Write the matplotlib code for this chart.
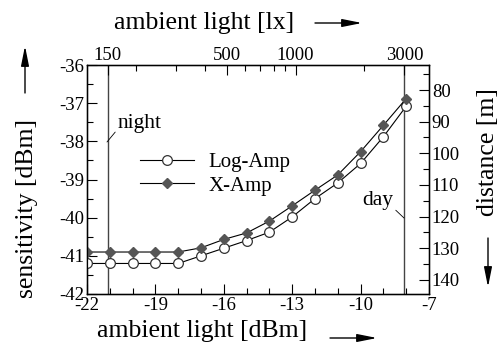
import numpy as np
import matplotlib
matplotlib.use("Agg")
import matplotlib.pyplot as plt
from matplotlib.ticker import MultipleLocator, FixedLocator

plt.rcParams['font.family'] = ['Liberation Serif', 'DejaVu Serif']
plt.rcParams['axes.unicode_minus'] = False

ambient_dbm = [-22, -21, -20, -19, -18, -17, -16, -15, -14, -13, -12, -11, -10, -9, -8]
log_amp = [-41.2, -41.2, -41.2, -41.2, -41.2, -41.0, -40.8, -40.6, -40.38, -39.98, -39.5, -39.09, -38.58, -37.88, -37.08]
x_amp = [-40.9, -40.9, -40.9, -40.9, -40.9, -40.79, -40.57, -40.4, -40.09, -39.69, -39.28, -38.88, -38.27, -37.58, -36.88]

dbm_ticks = [-22, -19, -16, -13, -10, -7]
lx_major = [150, 500, 1000, 3000]
lx_minor = [200, 300, 400, 600, 700, 800, 900, 2000]
night_lx = 150
day_lx = 3000
dist_major = [80, 90, 100, 110, 120, 130, 140]

LX_OFFSET = -42.85  # dBm = 10*log10(lx) + offset
def lx2dbm(lx):
    return 10 * np.log10(np.asarray(lx, dtype=float)) + LX_OFFSET

M_PER_DB = 12.07
D_AT_M42 = 144.5
def s2d(s):
    return D_AT_M42 - (np.asarray(s) + 42) * M_PER_DB

W, H = 502, 351
fig = plt.figure(figsize=(W / 100, H / 100), dpi=100)
ax = fig.add_axes([87 / W, 1 - 294 / H, (429 - 87) / W, (294 - 65) / H])

ax.plot(ambient_dbm, log_amp, '-', color='black', lw=0.8, marker='o', ms=7,
        mfc='white', mec='#333333', mew=0.9, label='Log-Amp', zorder=3)
ax.plot(ambient_dbm, x_amp, '-', color='black', lw=0.8, marker='D', ms=5.5,
        mfc='#555555', mec='#555555', label='X-Amp', zorder=3)

ax.set_xlim(-22, -7)
ax.set_ylim(-42, -36)
ax.xaxis.set_major_locator(FixedLocator(dbm_ticks))
ax.xaxis.set_minor_locator(MultipleLocator(1))
ax.yaxis.set_major_locator(MultipleLocator(1))
ax.yaxis.set_minor_locator(MultipleLocator(0.5))
ax.tick_params(which='both', direction='in', labelsize=13.5, pad=2)
ax.tick_params(which='major', length=7, width=0.8)
ax.tick_params(which='minor', length=4, width=0.8)
for sp in ax.spines.values():
    sp.set_linewidth(1.0)

for lx in (night_lx, day_lx):
    ax.axvline(lx2dbm(lx), color='#444444', lw=1.0, zorder=2)

axt = ax.twiny()
axt.set_xlim(ax.get_xlim())
axt.xaxis.set_major_locator(FixedLocator(lx2dbm(lx_major)))
axt.set_xticklabels([str(v) for v in lx_major])
axt.xaxis.set_minor_locator(FixedLocator(lx2dbm(lx_minor)))
axt.tick_params(which='both', direction='in', labelsize=13.5, pad=1)
axt.tick_params(which='major', length=7, width=0.8)
axt.tick_params(which='minor', length=4, width=0.8)

axr = ax.twinx()
axr.set_ylim(s2d(-42), s2d(-36))
axr.yaxis.set_major_locator(FixedLocator(dist_major))
axr.yaxis.set_minor_locator(MultipleLocator(5))
axr.tick_params(which='both', direction='in', labelsize=13.5, pad=2)
axr.tick_params(which='major', length=7, width=0.8)
axr.tick_params(which='minor', length=4, width=0.8)

leg = ax.legend(loc='center left', bbox_to_anchor=((140 - 87) / 342, 1 - (174 - 65) / 229),
                frameon=False, fontsize=15, handlelength=2.6, handletextpad=0.7,
                labelspacing=0.2, borderaxespad=0, borderpad=0)

def d2x(px):
    return -22 + (px - 87) / 22.8
def d2y(py):
    return -42 + (294 - py) / 38.17

ax.annotate('night', xy=(d2x(107), d2y(142)), xytext=(d2x(118), d2y(123)),
            fontsize=15.5, va='center', ha='left',
            arrowprops=dict(arrowstyle='-', color='black', lw=0.6, shrinkA=0, shrinkB=0,
                            relpos=(0, 0.2)))
ax.annotate('day', xy=(d2x(404), d2y(218)), xytext=(d2x(393), d2y(200)),
            fontsize=15.5, va='center', ha='right',
            arrowprops=dict(arrowstyle='-', color='black', lw=0.6, shrinkA=0, shrinkB=0,
                            relpos=(1.0, 0.1)))

lab_fs = 18.5
fig.text(204 / W, 1 - 23 / H, 'ambient light [lx]', fontsize=lab_fs, ha='center', va='center')
fig.text(202 / W, 1 - 331 / H, 'ambient light [dBm]', fontsize=lab_fs, ha='center', va='center')
fig.text(27 / W, 1 - 208 / H, 'sensitivity [dBm]', fontsize=lab_fs, ha='center', va='center', rotation=90)
fig.text(488 / W, 1 - 152 / H, 'distance [m]', fontsize=lab_fs, ha='center', va='center', rotation=90)

arrow_kw = dict(arrowstyle='-|>,head_length=1.0,head_width=0.2', color='black', lw=1.0,
                shrinkA=0, shrinkB=0)
def farrow(x0, y0, x1, y1):
    fig.add_artist(matplotlib.patches.FancyArrowPatch(
        (x0 / W, 1 - y0 / H), (x1 / W, 1 - y1 / H),
        transform=fig.transFigure, mutation_scale=12, **arrow_kw))

farrow(315, 23, 362, 23)
farrow(330, 338, 377, 338)
farrow(25, 93, 25, 46)
farrow(488, 238, 488, 287)

fig.savefig('out.png', dpi=100)
